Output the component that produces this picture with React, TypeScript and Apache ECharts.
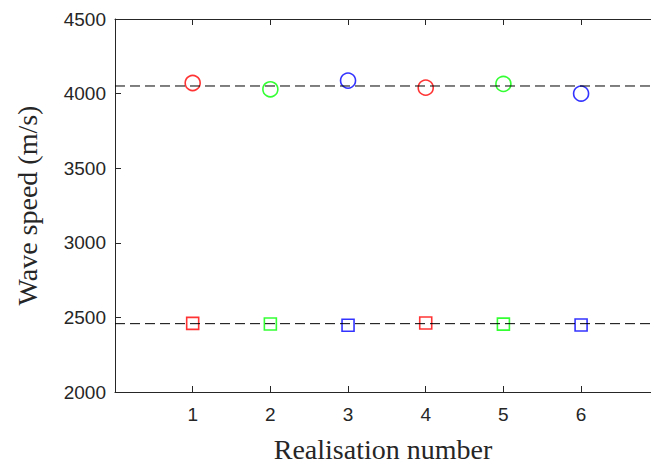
import React, { useEffect, useRef } from "react";
import * as echarts from "echarts";

const realisations = [1, 2, 3, 4, 5, 6];
const markerColors = ["#ff0000", "#00ff00", "#0000ff", "#ff0000", "#00ff00", "#0000ff"];
const circleValues = [4071, 4029, 4087, 4040, 4065, 4000];
const squareValues = [2460, 2456, 2447, 2462, 2455, 2449];
const upperMean = 4051;
const lowerMean = 2458;
const xMin = 0;
const xMax = 6.9;
const yTicks = [2000, 2500, 3000, 3500, 4000, 4500];

export default function App() {
  const ref = useRef<HTMLDivElement>(null);
  useEffect(() => {
    if (!ref.current) return;
    const chart = echarts.init(ref.current, undefined, { renderer: "svg" });
    const axisColor = "#262626";
    const tickFont = { fontFamily: "Liberation Sans", fontSize: 19, color: axisColor };
    const titleFont = { fontFamily: "Liberation Serif", fontSize: 28, color: axisColor };
    const mk = (vals: number[]) =>
      vals.map((v, i) => ({
        value: [realisations[i], v],
        itemStyle: { color: "rgba(0,0,0,0)", borderColor: markerColors[i], borderWidth: 1.6 },
      }));
    chart.setOption({
      animation: false,
      backgroundColor: "#ffffff",
      grid: { left: 115, top: 19, right: 0, bottom: 71 },
      xAxis: [
        {
          type: "value",
          min: xMin,
          max: xMax,
          interval: 1,
          position: "bottom",
          name: "Realisation number",
          nameLocation: "middle",
          nameGap: 43,
          nameTextStyle: titleFont,
          axisLine: { show: true, lineStyle: { color: axisColor, width: 1 } },
          axisTick: { show: true, inside: true, length: 6, lineStyle: { color: axisColor } },
          axisLabel: {
            ...tickFont,
            margin: 13,
            showMaxLabel: false,
            formatter: (v: number) => (v >= 1 && v <= 6 ? String(v) : ""),
          },
          splitLine: { show: false },
        },
        {
          type: "value",
          min: xMin,
          max: xMax,
          interval: 1,
          position: "top",
          axisLine: { show: true, lineStyle: { color: axisColor, width: 1 } },
          axisTick: { show: true, inside: true, length: 6, lineStyle: { color: axisColor } },
          axisLabel: { show: false },
          splitLine: { show: false },
        },
      ],
      yAxis: {
        type: "value",
        min: yTicks[0],
        max: yTicks[yTicks.length - 1],
        interval: 500,
        name: "Wave speed (m/s)",
        nameLocation: "middle",
        nameGap: 74,
        nameTextStyle: titleFont,
        axisLine: { show: true, lineStyle: { color: axisColor, width: 1 } },
        axisTick: { show: true, inside: true, length: 6, lineStyle: { color: axisColor } },
        axisLabel: { ...tickFont, margin: 9, formatter: (v: number) => String(v) },
        splitLine: { show: false },
      },
      series: [
        {
          type: "line",
          xAxisIndex: 0,
          data: [[xMin, upperMean], [xMax, upperMean]],
          symbol: "none",
          lineStyle: { color: "#000000", width: 1, type: [10, 5] },
          silent: true,
        },
        {
          type: "line",
          xAxisIndex: 0,
          data: [[xMin, lowerMean], [xMax, lowerMean]],
          symbol: "none",
          lineStyle: { color: "#000000", width: 1, type: [10, 5] },
          silent: true,
        },
        {
          type: "scatter",
          xAxisIndex: 0,
          symbol: "circle",
          symbolSize: 15,
          data: mk(circleValues),
        },
        {
          type: "scatter",
          xAxisIndex: 0,
          symbol: "rect",
          symbolSize: 12,
          data: mk(squareValues),
        },
      ],
    });
    return () => chart.dispose();
  }, []);
  return (
    <div
      ref={ref}
      style={{ position: "fixed", left: 0, top: 0, width: 651, height: 468, background: "#fff" }}
    />
  );
}
